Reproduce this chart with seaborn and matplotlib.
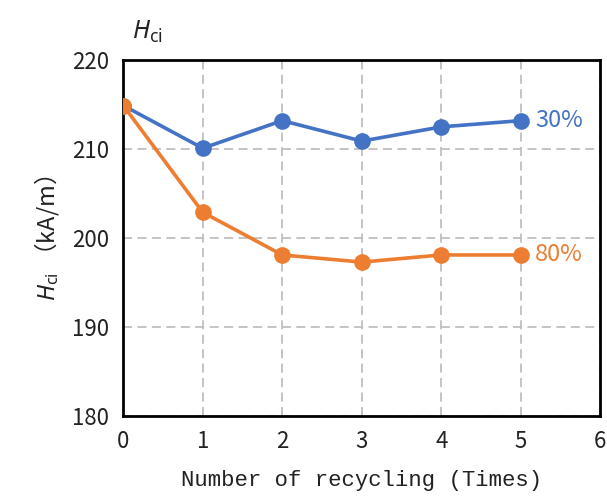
import matplotlib
matplotlib.use("Agg")
import matplotlib.pyplot as plt
import seaborn as sns
import pandas as pd

# Coercivity vs. number of recycling passes
cycles = [0, 1, 2, 3, 4, 5]
hci_30 = [214.9, 210.1, 213.2, 210.9, 212.5, 213.2]
hci_80 = [214.9, 202.9, 198.1, 197.3, 198.1, 198.1]
series_names = ["30%", "80%"]
colors = ["#4472C4", "#ED7D31"]

df = pd.concat([
    pd.DataFrame({"cycle": cycles, "hci": hci_30, "series": series_names[0]}),
    pd.DataFrame({"cycle": cycles, "hci": hci_80, "series": series_names[1]}),
])

sns.set_theme(style="white")
plt.rcParams["font.family"] = ["Noto Sans CJK JP", "DejaVu Sans"]
plt.rcParams["mathtext.fontset"] = "custom"
plt.rcParams["mathtext.it"] = "Noto Sans:italic"
plt.rcParams["mathtext.rm"] = "Noto Sans"

fig = plt.figure(figsize=(6.07, 4.97), dpi=100)
ax = fig.add_axes([0.203, 0.163, 0.786, 0.716])

sns.lineplot(data=df, x="cycle", y="hci", hue="series", palette=colors,
             marker="o", markersize=12, markeredgewidth=0, linewidth=2.6,
             legend=False, ax=ax, zorder=3)

ax.set_xlim(0, 6)
ax.set_ylim(180, 220)
ax.set_xticks(range(0, 7))
ax.set_yticks(range(180, 221, 10))
ax.grid(True, color="#BFBFBF", linestyle=(0, (5, 3)), linewidth=1.3)
for s in ax.spines.values():
    s.set_color("black")
    s.set_linewidth(2)
ax.tick_params(axis="both", length=0, labelsize=16, colors="#222222", pad=10)

ax.set_xlabel("Number of recycling (Times)", fontsize=16,
              family=["Liberation Mono", "DejaVu Sans Mono"], labelpad=12,
              color="#222222")
ax.set_ylabel(r"$\mathit{H}_{\mathrm{ci}}$ （kA/m）", fontsize=17, labelpad=8,
              color="#222222")

fig.text(0.218, 0.935, r"$\mathit{H}_{\mathrm{ci}}$", fontsize=18,
         ha="left", va="center", color="#222222")

# Series labels at the end of each line
for vals, name, c in zip([hci_30, hci_80], series_names, colors):
    ax.text(cycles[-1] + 0.18, vals[-1], name, color=c, fontsize=17,
            ha="left", va="center")

fig.savefig("out.png", dpi=100)
